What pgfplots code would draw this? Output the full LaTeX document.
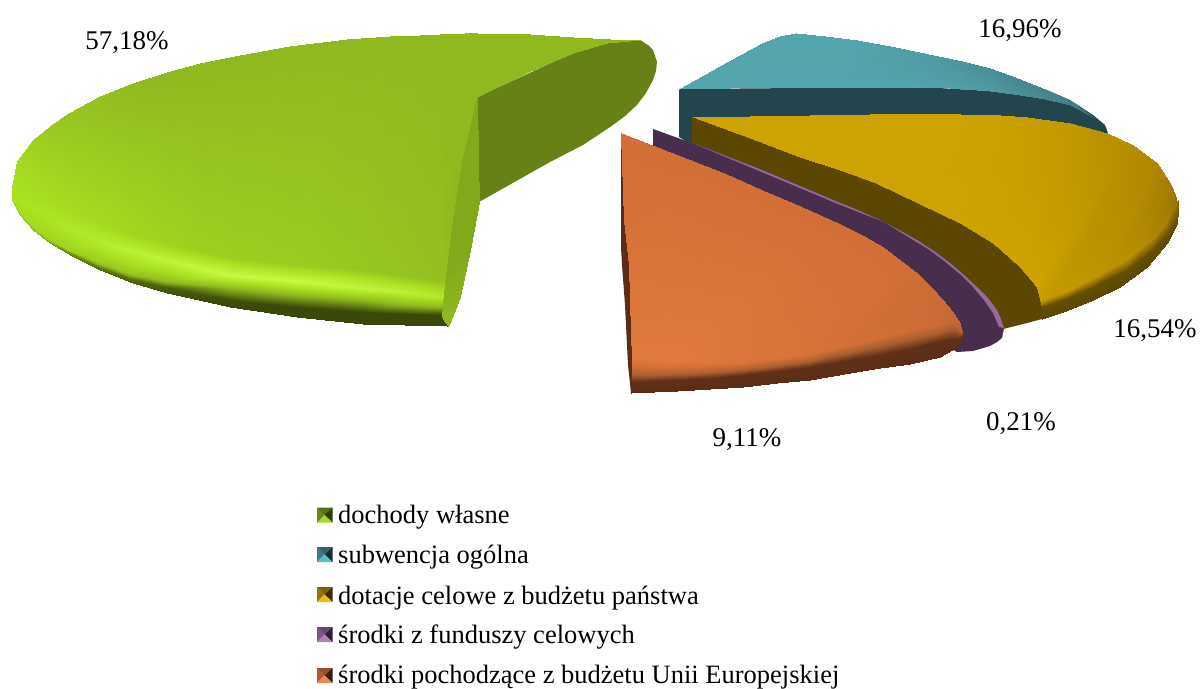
\documentclass[border=0pt]{standalone}
\usepackage{fontspec}
\setmainfont{Liberation Serif}
\usepackage{pgfplots}
\pgfplotsset{compat=1.18}
\pgfplotsset{
  colormap={cgreen}{rgb255=(58,72,10) rgb255=(143,185,31) rgb255=(170,225,33) rgb255=(198,250,68)},
  colormap={cteal}{rgb255=(35,70,78) rgb255=(70,130,140) rgb255=(84,165,174) rgb255=(84,165,174)},
  colormap={cgold}{rgb255=(91,71,0) rgb255=(140,108,0) rgb255=(178,138,0) rgb255=(204,163,0)},
  colormap={corange}{rgb255=(92,45,22) rgb255=(170,95,50) rgb255=(210,110,55) rgb255=(226,122,62)},
  sf/.style n args={3}{surf,shader=interp,mesh/rows=#1,mesh/cols=#2,point meta=explicit,colormap name=#3,point meta min=0,point meta max=3},
  poly/.style={fill=#1,draw=none,mark=none,forget plot},
}
\definecolor{gface}{RGB}{102,130,22}
\definecolor{tface}{RGB}{35,70,78}
\definecolor{yface}{RGB}{91,71,0}
\definecolor{pface}{RGB}{72,46,76}
\definecolor{pstrip}{RGB}{150,105,160}
\definecolor{oface}{RGB}{92,45,22}
\definecolor{ka}{RGB}{104,135,30}\definecolor{kb}{RGB}{84,112,20}\definecolor{kc}{RGB}{45,58,10}\definecolor{kd}{RGB}{165,215,42}
\definecolor{la}{RGB}{62,120,130}\definecolor{lb}{RGB}{50,100,110}\definecolor{lc}{RGB}{22,45,52}\definecolor{ld}{RGB}{90,190,200}
\definecolor{ma}{RGB}{150,115,10}\definecolor{mb}{RGB}{125,95,5}\definecolor{mc}{RGB}{55,42,0}\definecolor{md}{RGB}{235,190,15}
\definecolor{na}{RGB}{125,85,135}\definecolor{nb}{RGB}{105,70,115}\definecolor{nc}{RGB}{45,30,50}\definecolor{nd}{RGB}{180,125,190}
\definecolor{oa}{RGB}{170,95,55}\definecolor{ob}{RGB}{145,80,45}\definecolor{oc}{RGB}{58,30,15}\definecolor{od}{RGB}{240,135,75}
\newcommand{\lab}[2]{\node[font=\fontsize{27}{30}\selectfont,inner sep=0pt] at (axis cs:#1) {#2};}
\newcommand{\leg}[2]{\node[font=\fontsize{26.5}{30}\selectfont,inner sep=0pt,anchor=base west] at (axis cs:338,#1) {#2};}
\begin{document}
\begin{tikzpicture}
\begin{axis}[scale only axis,width=1204pt,height=686pt,xmin=0,xmax=1204,ymin=0,ymax=686,y dir=reverse,hide axis,clip=false]
\addplot[draw=none,forget plot] coordinates {(0,0) (1204,686)};
% GREEN
\addplot[poly=gface] coordinates {(477,97) (510,82) (540,68) (573,53) (607,43) (640,40) (648,45) (653,50) (657,62) (656,71) (653,80) (646,93) (637,105) (625,116) (613,125) (583,145) (550,162) (479,202)};
\addplot[sf={2}{22}{cgreen}] table[x=x,y=y,meta=c] {
x y c
12 187 1.9
17 161 1.8
33 140 1.6
50 126 1.4
67 114 1.3
100 96 1.15
133 83 1.05
167 72 1
200 63 1
240 55 1
290 46 1
347 39 1
390 36 1
420 35 1
440 34 1
455 34 1
465 33 1
477 33 1
530 34 1
573 37 1
610 39 1
640 40 1
12 187 2
20 193 2
35 206 2
50 217 2
75 230 1.95
100 240 1.9
133 250 1.8
167 260 1.7
200 268 1.6
240 277 1.55
290 282 1.5
347 287 1.4
390 291 1.3
443 303 1.2
447 267 1.1
453 220 1
462 162 1
477 97 1
528 72 1
573 53 1
607 43 1
640 40 1
};
\addplot[sf={5}{14}{cgreen}] table[x=x,y=y,meta=c] {
x y c
12 187 1.95
18 186 1.92
28 187 1.9
42 196 1.9
60 207 1.92
82 218 1.88
110 228 1.84
145 238 1.71
175 246 1.63
235 258 1.5
300 265 1.44
365 270 1.32
405 275 1.22
445 280 1.1
12 187 2
14 192 2
21 198 2
34 207 2.05
50 217 2.1
72 229 2.25
100 240 2.4
133 251 2.6
167 260 2.75
230 275 3
297 281 3
363 288 2.8
405 292 2.6
443 297 2.3
12 187 2
12.5 197 2
18 210 1.9
30 224 1.8
44 236 1.7
67 249 1.6
94 260 1.5
128 272 1.4
165 280 1.2
230 288 1
297 295 1
363 300 1
405 304 1.1
444 306 1.1
12 187 2
12.5 198 1.9
19 213 1.7
32 228 1.4
47 240 1
69 252 0.7
97 266 0.5
130 279 0.3
165 287 0.2
230 300 0.05
297 307 0
363 312 0
405 314 0
445 315 0
12 187 1.9
12.5 200 1.7
20 215 1.4
33 230 1
50 243 0.7
72 256 0.5
100 270 0.3
133 283 0.2
167 293 0.1
230 307 0
297 317 0
363 324 0
405 325 0
447 326 0
};
\addplot[sf={2}{8}{cgreen}] table[x=x,y=y,meta=c] {
x y c
477 97 0.85
462 162 0.85
453 220 0.85
447 267 0.85
443 303 0.95
442 317 1
445 322 1
448 326 1
477 97 0.85
478 162 0.85
479 202 0.85
470 250 0.85
460 297 0.95
455 310 1
451 320 1
448 326 1
};
% TEAL
\addplot[poly=tface] coordinates {(679,89) (922,87) (990,91) (1047,90) (1070,100) (1093,115) (1105,125) (1108,133) (1000,160) (692,145) (679,137)};
\addplot[sf={2}{15}{cteal}] table[x=x,y=y,meta=c] {
x y c
679 89 2
720 66 2
762 43 2
780 36 2
796 33 2
825 36 2
857 40 2
895 47 1.85
933 55 1.7
962 61 1.5
990 68 1.3
1020 79 1.1
1047 90 1
1070 100 0.9
1093 117 0.7
679 89 2
700 88 2
730 88 2
760 87 2
785 87 2
810 87 2
835 87 2
870 87 2
905 87 2
950 88 1.9
990 91 1.7
1020 95 1.4
1045 99 1.2
1070 105 0.9
1093 117 0.7
};
% GOLD
\addplot[poly=yface] coordinates {(692,117) (750,138) (800,157) (840,170) (876,183) (920,204) (960,223) (993,243) (1020,267) (1037,287) (1042,307) (1042,319) (1027,323) (1003,329) (950,300) (800,200) (692,143)};
\addplot[sf={2}{15}{cgold}] table[x=x,y=y,meta=c] {
x y c
693 117 3
750 116 3
810 115 3
870 114 3
920 114 3
960 114 3
1000 115 2.95
1027 117 2.8
1070 123 2.6
1107 133 2.3
1133 145 2.1
1157 163 1.9
1170 183 1.6
1175 195 1.4
1178 207 1.2
693 117 3
750 138 3
800 157 3
840 170 3
876 183 3
920 204 3
960 223 3
993 243 3
1020 267 3
1037 287 3
1042 307 2.7
1093 287 2.5
1127 270 2.3
1153 250 2
1170 230 1.6
};
\addplot[sf={3}{8}{cgold}] table[x=x,y=y,meta=c] {
x y c
1042 300 2.7
1068 290 2.7
1093 277 2.6
1127 258 2.4
1153 237 2.1
1165 222 1.9
1173 208 1.5
1178 200 1.2
1042 307 0.2
1068 298 0.2
1093 287 0.2
1127 270 0.2
1153 250 0.2
1170 230 0.3
1176 217 0.5
1178 207 0.8
1042 319 0
1066 311 0
1093 300 0
1120 287 0
1147 267 0
1167 243 0
1177 223 0
1178 210 0.8
};
% PURPLE
\addplot[poly=pface] coordinates {(653,129) (700,146) (762,170) (800,186) (838,202) (860,211) (880,220) (899,230) (917,240) (934,251) (950,263) (964,275) (977,287) (988,298) (997,310) (1001,319) (1004,328) (1002,338) (997,342) (990,346) (973,351) (957,352) (900,320) (800,240) (653,170)};
\addplot[poly=pstrip] coordinates {(690,142) (762,170) (800,186) (838,202) (860,211) (880,220) (899,230) (917,240) (934,251) (950,263) (964,275) (977,287) (988,298) (997,310) (1001,319) (1004,328) (999,327) (993,313) (984,300) (973,287) (960,274) (943,260) (928,249) (910,238) (884,222) (838,204) (800,188)};
% ORANGE
\addplot[poly=oface] coordinates {(621,133) (621,247) (622,265) (625,305) (628,365) (631,393) (633,382) (632,332) (630,265) (625,220)};
\addplot[sf={2}{16}{corange}] table[x=x,y=y,meta=c] {
x y c
621 133 2
652 145 2
688 159 2
724 173 2
762 190 2
800 206 2
840 224 2
862 235 2
883 247 2
900 260 2
917 273 1.95
930 286 1.9
943 300 1.8
952 311 1.7
960 323 1.5
962 337 1.4
621 133 2
624 220 2.2
629 265 2.5
631 332 2.8
632 360 3
677 364 3
710 365 2.8
745 364 2.6
777 361 2.5
810 357 2.3
850 348 2
880 341 2
910 334 2
935 329 1.8
950 326 1.6
962 337 1.4
};
\addplot[sf={3}{12}{corange}] table[x=x,y=y,meta=c] {
x y c
632 358 3
677 361 3
710 362 2.8
743 361 2.6
777 358 2.4
810 354 2.2
850 345 2
880 338 1.9
910 331 1.8
945 325 1.6
955 323 1.5
962 330 1.3
632 382 0.05
677 380 0.05
710 378 0.05
743 375 0.05
777 371 0.05
810 367 0.05
850 360 0.05
880 355 0.05
910 349 0.05
945 340 0.05
955 339 0.05
962 337 0.05
631 393 0
677 391 0
710 389 0
743 387 0
777 383 0
810 380 0
850 373 0
880 368 0
910 364 0
940 357 0
957 347 0
962 337 0
};
% LEGEND KEYS
\addplot[poly=ka] coordinates {(317,507.5) (324.5,515) (317,522.5)};
\addplot[poly=kb] coordinates {(317,507.5) (332.5,507.5) (324.5,515)};
\addplot[poly=kc] coordinates {(332.5,507.5) (332.5,522.5) (324.5,515)};
\addplot[poly=kd] coordinates {(317,522.5) (332.5,522.5) (324.5,515)};
\addplot[poly=la] coordinates {(317,547) (324.5,554.5) (317,562)};
\addplot[poly=lb] coordinates {(317,547) (332.5,547) (324.5,554.5)};
\addplot[poly=lc] coordinates {(332.5,547) (332.5,562) (324.5,554.5)};
\addplot[poly=ld] coordinates {(317,562) (332.5,562) (324.5,554.5)};
\addplot[poly=ma] coordinates {(317,587) (324.5,594.5) (317,602)};
\addplot[poly=mb] coordinates {(317,587) (332.5,587) (324.5,594.5)};
\addplot[poly=mc] coordinates {(332.5,587) (332.5,602) (324.5,594.5)};
\addplot[poly=md] coordinates {(317,602) (332.5,602) (324.5,594.5)};
\addplot[poly=na] coordinates {(317,627) (324.5,634.5) (317,642)};
\addplot[poly=nb] coordinates {(317,627) (332.5,627) (324.5,634.5)};
\addplot[poly=nc] coordinates {(332.5,627) (332.5,642) (324.5,634.5)};
\addplot[poly=nd] coordinates {(317,642) (332.5,642) (324.5,634.5)};
\addplot[poly=oa] coordinates {(317,668) (324.5,675.5) (317,683)};
\addplot[poly=ob] coordinates {(317,668) (332.5,668) (324.5,675.5)};
\addplot[poly=oc] coordinates {(332.5,668) (332.5,683) (324.5,675.5)};
\addplot[poly=od] coordinates {(317,683) (332.5,683) (324.5,675.5)};
% TEXT
\lab{127,43}{57,18\%}
\lab{1020,31}{16,96\%}
\lab{1155,331}{16,54\%}
\lab{1021,424}{0,21\%}
\lab{747,440}{9,11\%}
\leg{523}{dochody własne}
\leg{563}{subwencja ogólna}
\leg{604}{dotacje celowe z budżetu państwa}
\leg{643}{środki z funduszy celowych}
\leg{683}{środki pochodzące z budżetu Unii Europejskiej}
\end{axis}
\end{tikzpicture}
\end{document}
